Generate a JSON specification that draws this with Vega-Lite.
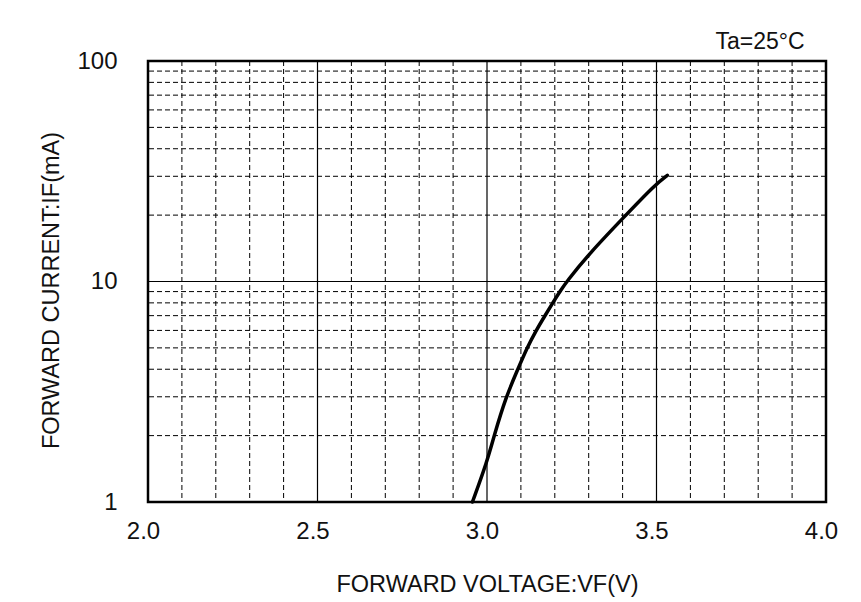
{
  "$schema": "https://vega.github.io/schema/vega-lite/v6.json",
  "width": 678,
  "height": 441,
  "autosize": "none",
  "padding": {"left": 148, "top": 61, "right": 35, "bottom": 100},
  "background": "white",
  "title": {"text": "Ta=25°C", "anchor": "end", "orient": "top", "baseline": "alphabetic", "offset": 13, "dx": -33, "dy": 36, "font": "Liberation Sans", "fontSize": 23, "fontWeight": "normal", "color": "#111"},
  "config": {
    "view": {"stroke": "black", "strokeWidth": 2.5},
    "font": "Liberation Sans"
  },
  "datasets": {
    "curve": [
      {"V": 2.957, "I": 1.0},
      {"V": 3.0, "I": 1.52},
      {"V": 3.021, "I": 2.0},
      {"V": 3.056, "I": 3.0},
      {"V": 3.091, "I": 4.0},
      {"V": 3.118, "I": 5.0},
      {"V": 3.145, "I": 6.0},
      {"V": 3.171, "I": 7.0},
      {"V": 3.194, "I": 8.0},
      {"V": 3.215, "I": 9.0},
      {"V": 3.235, "I": 10.0},
      {"V": 3.302, "I": 13.4},
      {"V": 3.4, "I": 19.3},
      {"V": 3.497, "I": 27.6},
      {"V": 3.532, "I": 30.3}
    ],
    "xminor": [{"v": 2.1},{"v": 2.2},{"v": 2.3},{"v": 2.4},{"v": 2.6},{"v": 2.7},{"v": 2.8},{"v": 2.9},{"v": 3.1},{"v": 3.2},{"v": 3.3},{"v": 3.4},{"v": 3.6},{"v": 3.7},{"v": 3.8},{"v": 3.9}],
    "xmajor": [{"v": 2.5},{"v": 3.0},{"v": 3.5}],
    "yminor": [{"v": 2},{"v": 3},{"v": 4},{"v": 5},{"v": 6},{"v": 7},{"v": 8},{"v": 9},{"v": 20},{"v": 30},{"v": 40},{"v": 50},{"v": 60},{"v": 70},{"v": 80},{"v": 90}],
    "ymajor": [{"v": 10}]
  },
  "layer": [
    {
      "data": {"name": "xminor"},
      "mark": {"type": "rule", "color": "black", "strokeWidth": 1, "strokeDash": [5, 3]},
      "encoding": {
        "x": {"field": "v", "type": "quantitative", "scale": {"domain": [2, 4], "nice": false, "zero": false},
          "axis": {"values": [2, 2.5, 3, 3.5, 4], "format": ".1f", "grid": false, "domain": false, "ticks": false, "labelFlush": false,
            "labelFont": "Liberation Sans", "labelFontSize": 24, "labelColor": "#111", "labelPadding": 17, "labelOffset": -5,
            "title": "FORWARD VOLTAGE:VF(V)", "titleFont": "Liberation Sans", "titleFontSize": 23.5, "titleFontWeight": "normal", "titleColor": "#111",
            "titleBaseline": "alphabetic", "titleY": 89}}
      }
    },
    {
      "data": {"name": "xmajor"},
      "mark": {"type": "rule", "color": "black", "strokeWidth": 1.2},
      "encoding": {"x": {"field": "v", "type": "quantitative"}}
    },
    {
      "data": {"name": "yminor"},
      "mark": {"type": "rule", "color": "black", "strokeWidth": 1, "strokeDash": [5, 3]},
      "encoding": {
        "y": {"field": "v", "type": "quantitative", "scale": {"type": "log", "domain": [1, 100], "nice": false},
          "axis": {"values": [1, 10, 100], "format": "d", "grid": false, "domain": false, "ticks": false, "labelFlush": false,
            "labelFont": "Liberation Sans", "labelFontSize": 24, "labelColor": "#111", "labelPadding": 31,
            "title": "FORWARD CURRENT:IF(mA)", "titleFont": "Liberation Sans", "titleFontSize": 23.5, "titleFontWeight": "normal", "titleColor": "#111",
            "titleBaseline": "alphabetic", "titleX": -90, "titleY": 229, "titleAngle": -90}}
      }
    },
    {
      "data": {"name": "ymajor"},
      "mark": {"type": "rule", "color": "black", "strokeWidth": 1.2},
      "encoding": {"y": {"field": "v", "type": "quantitative"}}
    },
    {
      "data": {"name": "curve"},
      "mark": {"type": "line", "color": "black", "strokeWidth": 3.5, "interpolate": "basis", "strokeCap": "round"},
      "encoding": {
        "x": {"field": "V", "type": "quantitative"},
        "y": {"field": "I", "type": "quantitative"}
      }
    }
  ]
}
